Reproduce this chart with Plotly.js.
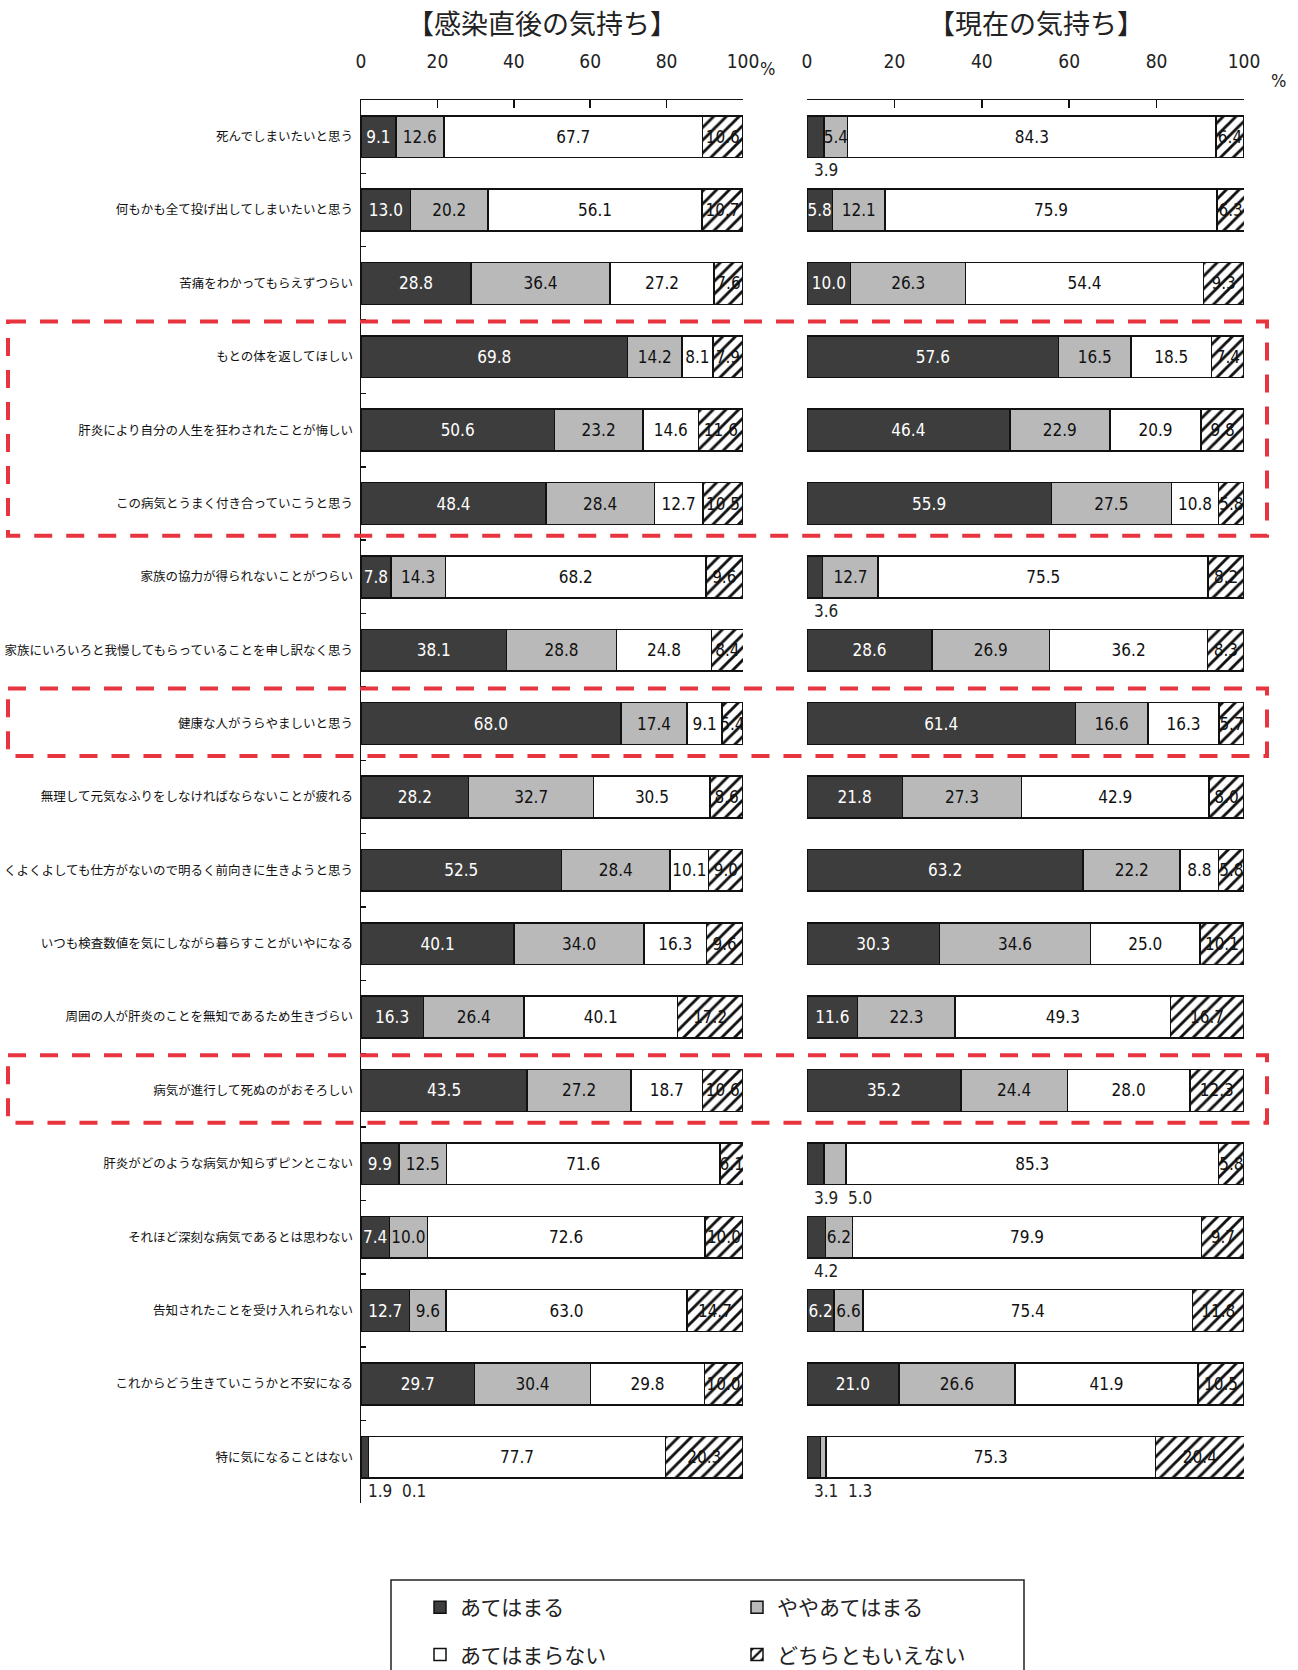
<!DOCTYPE html>
<html>
<head>
<meta charset="utf-8">
<script src="https://cdn.plot.ly/plotly-3.0.1.min.js"></script>
<style>html,body{margin:0;padding:0;background:#fff;}#chart{width:1298px;height:1670px;}</style>
</head>
<body>
<div id="chart"></div>
<script>
const categories = [
  '死んでしまいたいと思う',
  '何もかも全て投げ出してしまいたいと思う',
  '苦痛をわかってもらえずつらい',
  'もとの体を返してほしい',
  '肝炎により自分の人生を狂わされたことが悔しい',
  'この病気とうまく付き合っていこうと思う',
  '家族の協力が得られないことがつらい',
  '家族にいろいろと我慢してもらっていることを申し訳なく思う',
  '健康な人がうらやましいと思う',
  '無理して元気なふりをしなければならないことが疲れる',
  'くよくよしても仕方がないので明るく前向きに生きようと思う',
  'いつも検査数値を気にしながら暮らすことがいやになる',
  '周囲の人が肝炎のことを無知であるため生きづらい',
  '病気が進行して死ぬのがおそろしい',
  '肝炎がどのような病気か知らずピンとこない',
  'それほど深刻な病気であるとは思わない',
  '告知されたことを受け入れられない',
  'これからどう生きていこうかと不安になる',
  '特に気になることはない'
];
const seriesNames = ['あてはまる', 'ややあてはまる', 'あてはまらない', 'どちらともいえない'];
const panelTitles = ['【感染直後の気持ち】', '【現在の気持ち】'];
const tickValues = [0, 20, 40, 60, 80, 100];

// 感染直後の気持ち
const leftDark    = [9.1, 13.0, 28.8, 69.8, 50.6, 48.4, 7.8, 38.1, 68.0, 28.2, 52.5, 40.1, 16.3, 43.5, 9.9, 7.4, 12.7, 29.7, 1.9];
const leftLight   = [12.6, 20.2, 36.4, 14.2, 23.2, 28.4, 14.3, 28.8, 17.4, 32.7, 28.4, 34.0, 26.4, 27.2, 12.5, 10.0, 9.6, 30.4, 0.1];
const leftNo      = [67.7, 56.1, 27.2, 8.1, 14.6, 12.7, 68.2, 24.8, 9.1, 30.5, 10.1, 16.3, 40.1, 18.7, 71.6, 72.6, 63.0, 29.8, 77.7];
const leftNeither = [10.6, 10.7, 7.6, 7.9, 11.6, 10.5, 9.6, 8.4, 5.4, 8.6, 9.0, 9.6, 17.2, 10.6, 6.1, 10.0, 14.7, 10.0, 20.3];

// 現在の気持ち
const rightDark    = [3.9, 5.8, 10.0, 57.6, 46.4, 55.9, 3.6, 28.6, 61.4, 21.8, 63.2, 30.3, 11.6, 35.2, 3.9, 4.2, 6.2, 21.0, 3.1];
const rightLight   = [5.4, 12.1, 26.3, 16.5, 22.9, 27.5, 12.7, 26.9, 16.6, 27.3, 22.2, 34.6, 22.3, 24.4, 5.0, 6.2, 6.6, 26.6, 1.3];
const rightNo      = [84.3, 75.9, 54.4, 18.5, 20.9, 10.8, 75.5, 36.2, 16.3, 42.9, 8.8, 25.0, 49.3, 28.0, 85.3, 79.9, 75.4, 41.9, 75.3];
const rightNeither = [6.4, 6.3, 9.3, 7.4, 9.8, 5.8, 8.2, 8.3, 5.7, 8.0, 5.8, 10.1, 16.7, 12.3, 5.8, 9.7, 11.8, 10.5, 20.4];

// highlighted groups (category index ranges)
const highlightRanges = [[3, 5], [8, 8], [13, 13]];

const NARROW = '"Liberation Sans Narrow", "Arial Narrow", "DejaVu Sans Condensed", sans-serif';
const JP = '"Noto Sans CJK JP", "Noto Sans", sans-serif';
const SMALL_LIMIT = 5.0;

// page geometry (pixels)
const W = 1298, H = 1670, MT = 100, MB = 167;
const PH = H - MT - MB;
const py = p => (H - MB - p) / PH;   // pixel row -> paper y
const px = p => p / W;               // pixel column -> paper x

const styles = [
  {color: '#3d3d3d', text: '#ffffff', pattern: null, legend: 'legend'},
  {color: '#b9b9b9', text: '#111111', pattern: null, legend: 'legend2'},
  {color: '#ffffff', text: '#111111', pattern: null, legend: 'legend'},
  {color: '#ffffff', text: '#111111', pattern: {shape: '/', fgcolor: '#111111', bgcolor: '#ffffff', size: 9, solidity: 0.32, fillmode: 'replace'}, legend: 'legend2'}
];

const panels = [
  {series: [leftDark, leftLight, leftNo, leftNeither], xaxis: 'x', showlegend: true},
  {series: [rightDark, rightLight, rightNo, rightNeither], xaxis: 'x2', showlegend: false}
];

const traces = [];
panels.forEach(p => {
  p.series.forEach((vals, k) => {
    const st = styles[k];
    const marker = {color: st.color, line: {color: '#111111', width: 1.5}};
    if (st.pattern) marker.pattern = st.pattern;
    traces.push({
      type: 'bar', orientation: 'h',
      name: seriesNames[k],
      y: categories, x: vals,
      xaxis: p.xaxis, yaxis: 'y',
      marker: marker,
      text: vals.map(v => v > SMALL_LIMIT ? v.toFixed(1) : ''),
      texttemplate: '%{text}',
      textposition: 'inside', insidetextanchor: 'middle', textangle: 0,
      constraintext: 'none',
      textfont: {family: NARROW, size: 17, color: st.text},
      hoverinfo: 'skip',
      showlegend: p.showlegend,
      legend: st.legend,
      legendgroup: 'g' + k
    });
  });
});

// labels for small segments shown below the bar
const annotations = [];
panels.forEach(p => {
  const xr = p.xaxis;
  categories.forEach((c, i) => {
    const small = [p.series[0][i], p.series[1][i]].filter(v => v <= SMALL_LIMIT);
    if (small.length) {
      annotations.push({
        xref: xr, yref: 'y', x: 0, y: i + 0.46, xanchor: 'left', yanchor: 'middle',
        xshift: 5, showarrow: false,
        text: small.map(v => v.toFixed(1)).join('  '),
        font: {family: NARROW, size: 17, color: '#222'}
      });
    }
  });
});

// panel titles
[['x', -10], ['x2', 10]].forEach((a, j) => {
  annotations.push({
    xref: a[0] + ' domain', yref: 'paper', x: 0.5, y: py(22), xshift: a[1],
    xanchor: 'center', yanchor: 'middle', showarrow: false,
    text: panelTitles[j], font: {family: JP, size: 27, color: '#222'}
  });
});
// % signs
annotations.push({xref: 'paper', yref: 'paper', x: px(767), y: py(56), showarrow: false,
  text: '%', font: {family: NARROW, size: 18, color: '#222'}});
annotations.push({xref: 'paper', yref: 'paper', x: px(1288), y: py(68), showarrow: false,
  text: '%', font: {family: NARROW, size: 18, color: '#222'}});

const shapes = [];
highlightRanges.forEach(r => {
  shapes.push({
    type: 'rect', xref: 'paper', yref: 'y',
    x0: px(8), x1: px(1267), y0: r[0] - 0.48, y1: r[1] + 0.44,
    line: {color: '#e8343f', width: 4, dash: '18px,14px'}, fillcolor: 'rgba(0,0,0,0)', layer: 'above'
  });
});
// legend frame
shapes.push({
  type: 'rect', xref: 'paper', yref: 'paper',
  x0: px(391), x1: px(1024), y0: py(1685), y1: py(1580),
  line: {color: '#222', width: 1.5}, fillcolor: 'rgba(0,0,0,0)'
});

const xaxisBase = {
  range: [0, 100], side: 'top', anchor: 'y',
  tickvals: tickValues, ticktext: tickValues.map(String),
  ticks: 'inside', ticklen: 8, tickwidth: 1.5, tickcolor: '#111',
  showline: true, linecolor: '#111', linewidth: 1.5, mirror: false,
  showgrid: false, zeroline: false, fixedrange: true,
  ticklabelstandoff: 23,
  tickfont: {family: NARROW, size: 19, color: '#222'}
};

const legendBase = {
  orientation: 'v', xanchor: 'left', yanchor: 'top', y: py(1587),
  font: {family: JP, size: 21, color: '#222'},
  bgcolor: 'rgba(0,0,0,0)', borderwidth: 0,
  traceorder: 'grouped', tracegroupgap: 17, itemwidth: 30
};

const layout = {
  width: W, height: H,
  margin: {l: 0, r: 0, t: MT, b: MB, autoexpand: false},
  paper_bgcolor: '#ffffff', plot_bgcolor: 'rgba(0,0,0,0)',
  barmode: 'stack', bargap: 0.43,
  uniformtext: {mode: 'show', minsize: 15},
  xaxis: Object.assign({}, xaxisBase, {domain: [px(361), px(743)]}),
  xaxis2: Object.assign({}, xaxisBase, {domain: [px(807), px(1244)]}),
  yaxis: {
    type: 'category', autorange: 'reversed', anchor: 'x',
    showline: true, linecolor: '#111', linewidth: 1.5,
    ticks: 'inside', tickson: 'boundaries', ticklen: 5, tickcolor: '#111', tickwidth: 1.5,
    showgrid: false, zeroline: false, fixedrange: true, automargin: false,
    ticklabelstandoff: 4,
    tickfont: {family: JP, size: 12.5, color: '#111'}
  },
  showlegend: true,
  legend: Object.assign({}, legendBase, {x: px(420)}),
  legend2: Object.assign({}, legendBase, {x: px(737)}),
  annotations: annotations,
  shapes: shapes
};

Plotly.newPlot('chart', traces, layout, {staticPlot: true, displayModeBar: false});
</script>
</body>
</html>
